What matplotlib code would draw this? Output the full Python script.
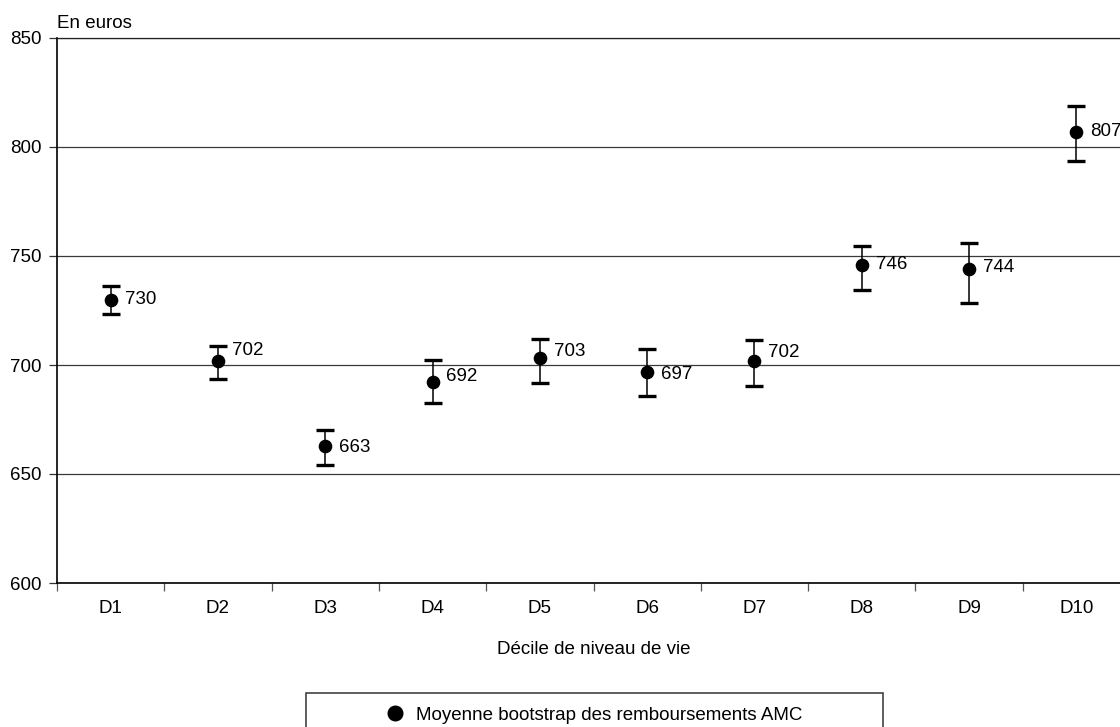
import matplotlib
matplotlib.use("Agg")
import matplotlib.pyplot as plt
from matplotlib.lines import Line2D
from matplotlib.patches import Rectangle

# Bootstrap means of supplementary insurance (AMC) reimbursements by income decile
deciles = ["D1", "D2", "D3", "D4", "D5", "D6", "D7", "D8", "D9", "D10"]
means = [730, 702, 663, 692, 703, 697, 702, 746, 744, 807]
ci_low = [723.3, 693.7, 654.1, 682.4, 691.6, 685.8, 690.4, 734.6, 728.3, 793.6]
ci_high = [736.4, 708.9, 670.2, 702.1, 711.8, 707.5, 711.6, 754.7, 755.8, 818.8]
y_ticks = [600, 650, 700, 750, 800, 850]

# small vertical nudges (points) for the value labels
label_nudge = [0, 7, -1, 4, 5, -2, 6, 0, 1, 0]

FS = 13.5
plt.rcParams["font.family"] = ["Liberation Sans", "DejaVu Sans"]
plt.rcParams["font.size"] = FS

W, H = 1120, 727
fig = plt.figure(figsize=(W / 100, H / 100), dpi=100)
ax = fig.add_axes([57 / W, 1 - 583 / H, (1130 - 57) / W, (583 - 38) / H])

x = list(range(1, len(deciles) + 1))
yerr = [[m - lo for m, lo in zip(means, ci_low)],
        [hi - m for m, hi in zip(means, ci_high)]]

ax.errorbar(x, means, yerr=yerr, fmt="o", color="black", ms=8.8,
            elinewidth=1.1, capsize=6.2, capthick=2.4, zorder=3)

for xi, m, dy in zip(x, means, label_nudge):
    ax.annotate(f"{m}", (xi, m), xytext=(10, dy), textcoords="offset points",
                ha="left", va="center", fontsize=FS, annotation_clip=False)

ax.set_xlim(0.5, len(deciles) + 0.5)
ax.set_ylim(600, 850)
ax.set_yticks(y_ticks)
ax.set_xticks(x)
ax.set_xticklabels(deciles)
ax.set_xticks([i + 0.5 for i in range(len(deciles) + 1)], minor=True)
ax.tick_params(axis="x", which="major", length=0, pad=12.5, labelsize=FS)
ax.tick_params(axis="x", which="minor", length=6, width=0.9, color="#555555")
ax.tick_params(axis="y", length=6, width=0.9, pad=5, labelsize=FS, color="#333333")

ax.yaxis.grid(True, color="#3a3a3a", linewidth=0.9)
ax.set_axisbelow(True)
ax.spines["right"].set_visible(False)
ax.spines["top"].set_linewidth(0.9)
ax.spines["top"].set_color("#222222")
ax.spines["left"].set_linewidth(1.2)
ax.spines["bottom"].set_linewidth(1.2)

ax.set_xlabel("Décile de niveau de vie", fontsize=FS)
ax.xaxis.set_label_coords(0.5, (583 - 650) / (583 - 38))
ax.xaxis.label.set_verticalalignment("center")
fig.text(57 / W, 1 - 23 / H, "En euros", ha="left", va="center", fontsize=FS)

# legend with a wide frame below the plot
fig.patches.append(Rectangle((306 / W, 1 - 737 / H), 577 / W, 44 / H,
                             transform=fig.transFigure, fill=False,
                             edgecolor="#333333", linewidth=1.1))
handle = Line2D([], [], linestyle="none", marker="o", color="black", ms=10.5)
fig.legend([handle], ["Moyenne bootstrap des remboursements AMC"],
           loc="center", bbox_to_anchor=(595 / W, 1 - 715 / H),
           frameon=False, fontsize=FS, handlelength=0.8, handletextpad=0.75)

fig.savefig("out.png", dpi=100)
